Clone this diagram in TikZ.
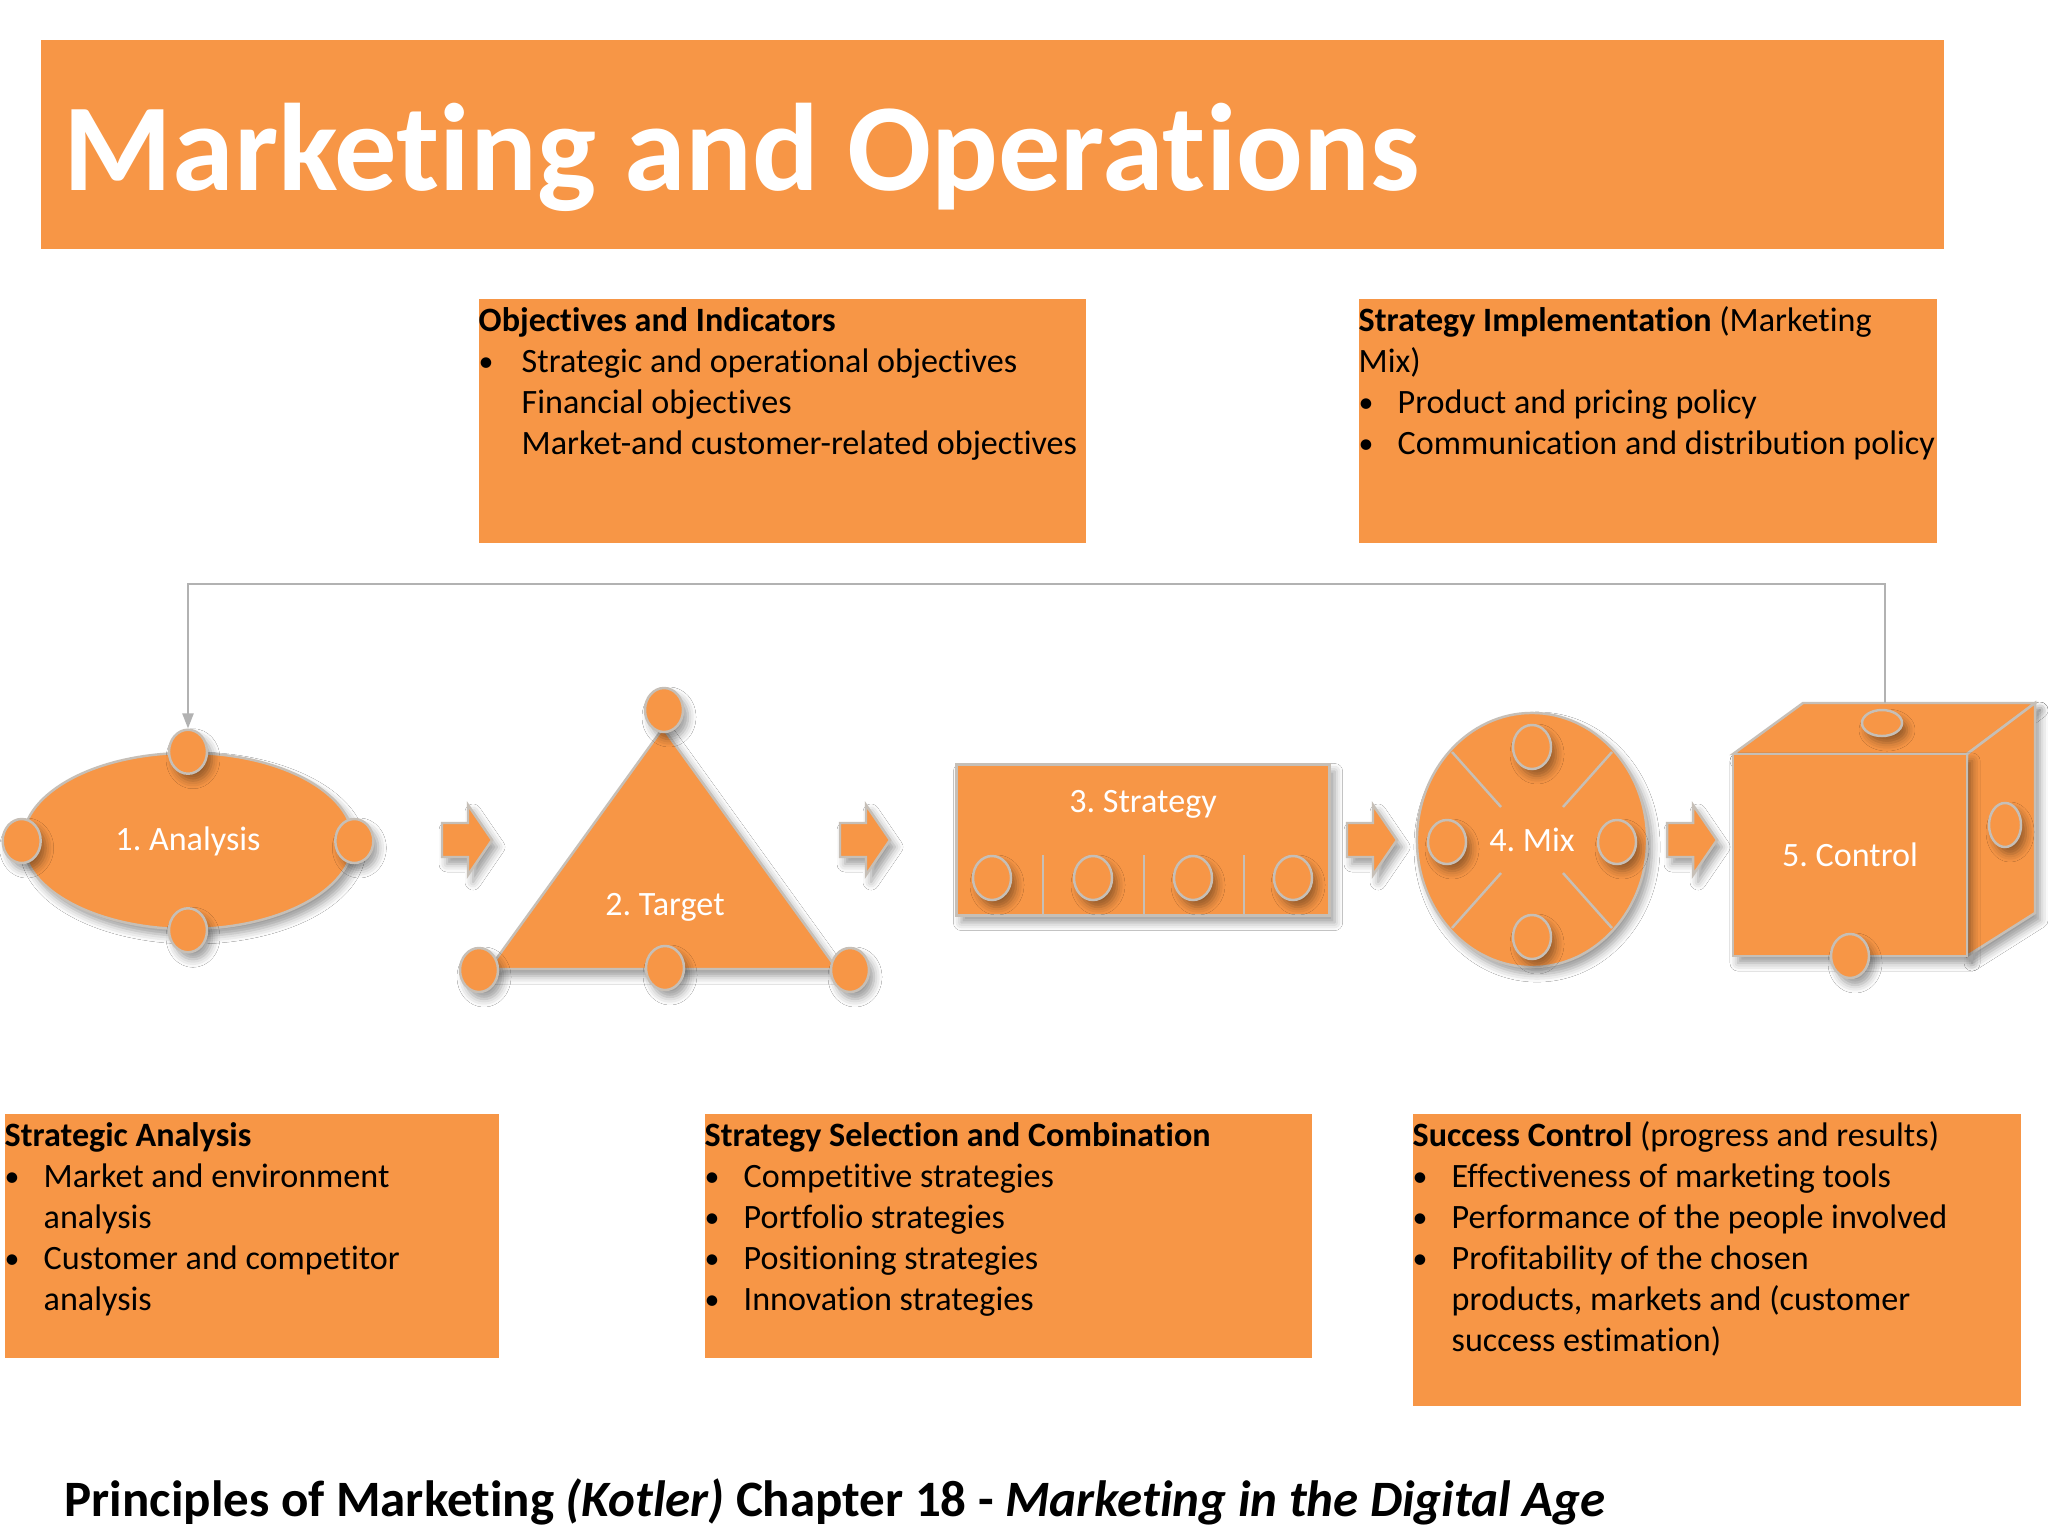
\documentclass[tikz,border=0pt]{standalone}
\usepackage{fontspec}
\setmainfont{Carlito}[Ligatures=NoCommon]
\usetikzlibrary{positioning}
\usetikzlibrary{shapes.geometric}
\usetikzlibrary{arrows.meta}
\usetikzlibrary{shadows.blur}

\definecolor{mkorange}{HTML}{F79646}
\definecolor{mkedge}{HTML}{C6BFB7}
\definecolor{mkline}{HTML}{B2B2B2}

\tikzset{
  mkshape/.style={fill=mkorange, draw=mkedge, line width=0.7pt,
    blur shadow={shadow xshift=0.05cm, shadow yshift=-0.07cm,
      shadow blur radius=0.08cm, shadow opacity=40}},
  knob/.style={mkshape, ellipse, inner sep=0pt,
    minimum width=0.38cm, minimum height=0.44cm},
  lbl/.style={text=white, font=\fontsize{9.7}{11.6}\selectfont},
  divline/.style={draw=mkedge, line width=0.7pt},
  infobox/.style={fill=mkorange, inner sep=0pt, anchor=north west},
  boxtext/.style={inner sep=0pt, anchor=north west, yshift=-0.04cm,
    font=\fontsize{9.7}{11.66}\selectfont, align=left},
  conn/.style={draw=mkline, line width=0.6pt,
    -{Triangle[length=0.15cm,width=0.11cm]}},
}
\newcommand{\bul}{{\fontsize{8.5}{8.5}\selectfont\raisebox{0.4pt}{\textbullet}}}

\begin{document}
\frenchspacing
\begin{tikzpicture}[x=0.01cm, y=0.01cm]
\useasboundingbox[fill=white] (0,0) rectangle (2048,-1536);

% title bar
\node[infobox, minimum width=19.02cm, minimum height=2.09cm] (TitleBar) at (40,-39) {};
\node[anchor=base west, inner sep=0pt, text=white, font=\fontsize{35.4}{42}\selectfont\bfseries] (Title) at (63,-190) {Marketing and Operations};

% upper boxes
\node[infobox, minimum width=6.07cm, minimum height=2.44cm] (ObjBox) at (478,-298) {};
\node[boxtext] (ObjTxt) at (ObjBox.north west) {%
\begin{tabular}{@{}p{0.43cm}@{}l@{}}
\multicolumn{2}{@{}l@{}}{\textbf{Objectives and Indicators}}\\
\bul & Strategic and operational objectives\\
 & Financial objectives\\
 & Market-and customer-related objectives
\end{tabular}};

\node[infobox, minimum width=5.78cm, minimum height=2.44cm] (ImplBox) at (1358,-298) {};
\node[boxtext] (ImplTxt) at (ImplBox.north west) {%
\begin{tabular}{@{}p{0.39cm}@{}l@{}}
\multicolumn{2}{@{}l@{}}{\textbf{Strategy Implementation} (Marketing}\\
\multicolumn{2}{@{}l@{}}{Mix)}\\
\bul & Product and pricing policy\\
\bul & Communication and distribution policy
\end{tabular}};

% 1. analysis
\node[mkshape, ellipse, lbl, inner sep=0pt, minimum width=3.30cm, minimum height=1.76cm] (Ana) at (188,-841) {1. Analysis};
\foreach \a in {north,south,east,west}
  \node[knob] (Ana-\a) at (Ana.\a) {};

% 2. target
\coordinate (TgtA) at (663,-728);
\coordinate (TgtL) at (489,-969);
\coordinate (TgtR) at (837,-969);
\draw[mkshape] (TgtA) -- (TgtR) -- (TgtL) -- cycle;
\node[lbl] (Tgt) at (665,-907) {2. Target};
\node[knob] (Tgt-top) at (664,-710) {};
\node[knob] (Tgt-left) at (479,-970) {};
\node[knob] (Tgt-mid) at (665,-968) {};
\node[knob] (Tgt-right) at (850,-970) {};

% 3. strategy
\node[mkshape, rectangle, inner sep=0pt, minimum width=3.73cm, minimum height=1.51cm] (Strat) at (1143,-840) {};
\node[lbl] (StratTxt) at ([yshift=-0.41cm]Strat.north) {3. Strategy};
\foreach \x in {1043,1144,1244}
  \draw[divline] (\x,-855) -- (\x,-915);
\foreach \x in {992,1093,1193,1293}
  \node[knob] (Strat-\x) at (\x,-878) {};

% 4. mix
\node[mkshape, ellipse, lbl, inner sep=0pt, minimum width=2.30cm, minimum height=2.54cm] (Mix) at (1532,-840) {4. Mix};
\foreach \sx/\sy in {1/1,-1/1,1/-1,-1/-1}
  \draw[divline] ([shift={(\sx*80,\sy*88)}]Mix.center) -- ([shift={(\sx*31,\sy*33)}]Mix.center);
\node[knob] (Mix-n) at (1532,-747) {};
\node[knob] (Mix-s) at (1532,-937) {};
\node[knob] (Mix-w) at (1447,-842) {};
\node[knob] (Mix-e) at (1617,-842) {};

% 5. control
\coordinate (CtrlA) at (1733,-754);
\coordinate (CtrlB) at (1967,-754);
\coordinate (CtrlC) at (1967,-956);
\coordinate (CtrlD) at (1803,-703);
\coordinate (CtrlE) at (2035,-703);
\coordinate (CtrlF) at (2035,-913);
\draw[mkshape] (CtrlA) -- (CtrlD) -- (CtrlE) -- (CtrlB) -- cycle;
\draw[mkshape] (CtrlB) -- (CtrlE) -- (CtrlF) -- (CtrlC) -- cycle;
\node[mkshape, rectangle, lbl, inner sep=0pt, minimum width=2.34cm, minimum height=2.02cm] (Ctrl) at (1850,-855) {5. Control};
\node[knob, minimum width=0.40cm, minimum height=0.26cm] (Ctrl-top) at (1882,-723) {};
\node[knob, minimum width=0.32cm, minimum height=0.44cm] (Ctrl-side) at (2005,-825) {};
\node[knob] (Ctrl-bot) at (1850,-956) {};

% block arrows
\foreach \x in {442,840,1347,1667}
  \draw[mkshape] (\x,-823) -- ++(26,0) -- ++(0,18) -- ++(24,-35)
    -- ++(-24,-35) -- ++(0,18) -- ++(-26,0) -- cycle;

% feedback line
\coordinate (CtrlOut) at (1885,-703);
\draw[conn] (CtrlOut) -- ++(0,119) -| (Ana-north.north);

% lower boxes
\node[infobox, minimum width=4.94cm, minimum height=2.44cm] (AnaBox) at (4,-1113) {};
\node[boxtext] (AnaTxt) at (AnaBox.north west) {%
\begin{tabular}{@{}p{0.39cm}@{}l@{}}
\multicolumn{2}{@{}l@{}}{\textbf{Strategic Analysis}}\\
\bul & Market and environment\\
 & analysis\\
\bul & Customer and competitor\\
 & analysis
\end{tabular}};

\node[infobox, minimum width=6.07cm, minimum height=2.44cm] (SelBox) at (704,-1113) {};
\node[boxtext] (SelTxt) at (SelBox.north west) {%
\begin{tabular}{@{}p{0.39cm}@{}l@{}}
\multicolumn{2}{@{}l@{}}{\textbf{Strategy Selection and Combination}}\\
\bul & Competitive strategies\\
\bul & Portfolio strategies\\
\bul & Positioning strategies\\
\bul & Innovation strategies
\end{tabular}};

\node[infobox, minimum width=6.08cm, minimum height=2.92cm] (CtrlBox) at (1412,-1113) {};
\node[boxtext] (CtrlTxt) at (CtrlBox.north west) {%
\begin{tabular}{@{}p{0.39cm}@{}l@{}}
\multicolumn{2}{@{}l@{}}{\textbf{Success Control} (progress and results)}\\
\bul & Effectiveness of marketing tools\\
\bul & Performance of the people involved\\
\bul & Profitability of the chosen\\
 & products, markets and (customer\\
 & success estimation)
\end{tabular}};

% caption
\node[anchor=base west, inner sep=0pt, font=\fontsize{14.5}{17}\selectfont\bfseries] (Caption) at (64,-1516) {Principles of Marketing \textit{(Kotler)} Chapter 18 - \textit{Marketing in the Digital Age}};

\end{tikzpicture}
\end{document}
